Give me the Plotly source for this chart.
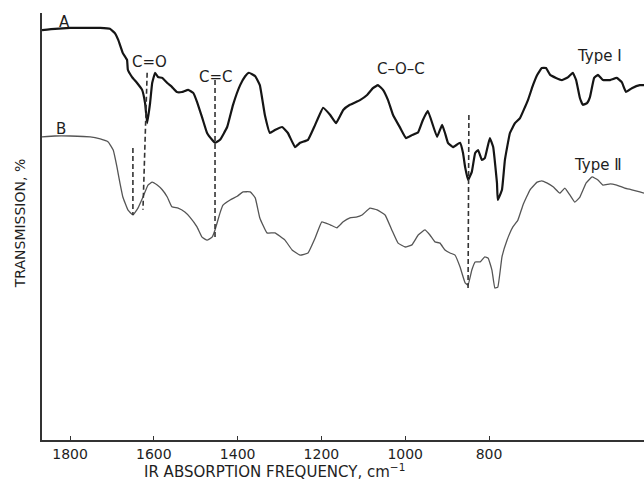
import plotly.graph_objects as go

# ---- data (wavenumber cm^-1, transmission %) ----
wn_a = [1867, 1836, 1800, 1764, 1728, 1705, 1693, 1685, 1674, 1664, 1662, 1652, 1640, 1628,
        1621, 1616, 1609, 1604, 1597, 1590, 1580, 1568, 1557, 1545, 1533, 1518, 1506, 1497,
        1485, 1473, 1461, 1454, 1442, 1425, 1411, 1394, 1382, 1373, 1358, 1347, 1335, 1323,
        1311, 1294, 1280, 1263, 1251, 1232, 1215, 1196, 1179, 1165, 1148, 1132, 1108, 1091,
        1077, 1065, 1053, 1041, 1029, 1012, 998, 984, 969, 958, 946, 924, 912, 905, 898, 886,
        869, 862, 857, 850, 841, 833, 826, 817, 810, 798, 790, 781, 779, 769, 762, 750, 738,
        726, 714, 707, 695, 685, 674, 664, 654, 640, 626, 611, 600, 592, 583, 576, 566, 559,
        549, 540, 528, 511, 495, 483, 473, 459, 440, 430]
t_a = [96.0, 96.3, 96.5, 96.5, 96.5, 96.3, 95.3, 93.7, 90.6, 89.0, 86.7, 85.0, 83.6, 82.0,
       78.9, 74.2, 78.9, 83.6, 86.0, 85.0, 84.8, 83.6, 82.7, 81.5, 81.5, 82.0, 81.3, 79.2,
       75.6, 71.9, 70.3, 69.6, 70.3, 73.3, 78.5, 83.1, 85.2, 86.0, 85.2, 83.1, 76.1, 71.9,
       72.6, 73.3, 71.9, 68.6, 69.6, 70.3, 73.8, 77.8, 76.1, 74.2, 77.3, 78.5, 79.6, 80.8,
       82.4, 83.1, 82.0, 79.6, 76.1, 73.1, 70.7, 71.4, 72.1, 74.9, 77.1, 71.0, 73.8, 71.9,
       69.6, 68.6, 69.6, 67.2, 63.9, 60.9, 62.8, 67.2, 67.9, 65.6, 66.0, 70.7, 68.6, 60.2,
       56.2, 58.6, 65.6, 71.9, 74.2, 75.4, 78.0, 79.6, 83.1, 85.5, 87.1, 87.1, 85.5, 84.8,
       84.3, 85.0, 86.0, 84.3, 80.1, 78.5, 78.9, 80.3, 84.8, 85.5, 84.3, 84.3, 84.8, 83.8,
       81.5, 82.4, 83.1, 83.1]

wn_b = [1867, 1836, 1800, 1752, 1728, 1709, 1697, 1688, 1681, 1674, 1662, 1650, 1638, 1626,
        1614, 1604, 1592, 1580, 1568, 1557, 1542, 1526, 1514, 1497, 1485, 1473, 1461, 1454,
        1442, 1435, 1418, 1401, 1387, 1370, 1358, 1347, 1330, 1311, 1287, 1270, 1251, 1232,
        1215, 1199, 1179, 1163, 1148, 1132, 1117, 1103, 1084, 1067, 1048, 1032, 1017, 1000,
        984, 969, 953, 941, 929, 917, 905, 893, 881, 869, 857, 850, 841, 833, 821, 810, 802,
        793, 786, 779, 769, 757, 743, 731, 719, 702, 685, 674, 662, 647, 631, 619, 607, 595,
        583, 568, 554, 540, 528, 511, 495, 476, 459, 440, 430]
t_b = [71.0, 71.2, 71.2, 71.0, 70.5, 69.8, 67.9, 63.9, 60.2, 56.9, 53.9, 52.7, 54.3, 56.9,
       59.7, 60.4, 59.7, 58.6, 56.9, 54.6, 54.3, 53.4, 52.2, 49.9, 47.5, 46.8, 47.5, 49.2,
       53.2, 55.0, 56.2, 57.1, 58.1, 58.1, 56.7, 52.0, 48.5, 48.5, 46.8, 44.5, 43.3, 43.8,
       47.3, 51.1, 50.4, 49.7, 51.1, 52.0, 52.2, 52.7, 54.3, 53.9, 52.7, 49.2, 46.1, 45.2,
       45.7, 48.0, 49.2, 48.0, 46.4, 46.1, 44.5, 43.8, 43.3, 40.5, 36.8, 36.3, 39.8, 41.7,
       41.7, 42.9, 42.6, 39.8, 35.6, 35.8, 42.9, 46.8, 49.9, 51.5, 55.0, 58.6, 60.4, 60.7,
       60.2, 59.3, 57.8, 59.0, 57.4, 55.7, 56.9, 60.2, 61.6, 60.9, 59.7, 60.0, 59.7, 59.0,
       58.6, 58.1, 57.8]

# dashed band-assignment markers (start/end in data units)
dash_wn_top = [1616, 1650, 1454, 848]
dash_wn_bot = [1626, 1650, 1454, 850]
dash_t_top = [86.0, 68.4, 84.3, 76.1]
dash_t_bot = [53.9, 52.7, 47.3, 35.1]

band_labels = ["C=O", "C=C", "C\u2013O\u2013C"]
band_wn = [1611, 1452, 1010]
band_t = [88.5, 85.0, 86.9]

curve_labels = ["A", "B", "Type \u2160", "Type \u2161"]
curve_label_wn = [1814, 1821, 537, 540]
curve_label_t = [97.9, 72.8, 89.9, 64.4]

tick_vals = [1800, 1600, 1400, 1200, 1000, 800]
tick_text = ["1800", "1600", "1400", "1200", "1000", "800"]

FONT = "DejaVu Sans, Liberation Sans, sans-serif"
INK = "#1e1e1e"

fig = go.Figure()
fig.add_trace(go.Scatter(x=wn_a, y=t_a, mode="lines",
                         line=dict(color="#151515", width=2.2, shape="spline", smoothing=0.3),
                         hoverinfo="skip", showlegend=False))
fig.add_trace(go.Scatter(x=wn_b, y=t_b, mode="lines",
                         line=dict(color="#555555", width=1.3, shape="spline", smoothing=0.3),
                         hoverinfo="skip", showlegend=False))
for x0, x1, y0, y1 in zip(dash_wn_top, dash_wn_bot, dash_t_top, dash_t_bot):
    fig.add_trace(go.Scatter(x=[x0, x1], y=[y0, y1], mode="lines",
                             line=dict(color="#333333", width=1.6, dash="5px,3px"),
                             hoverinfo="skip", showlegend=False))

for txt, x, y in zip(band_labels, band_wn, band_t):
    fig.add_annotation(x=x, y=y, text=txt, showarrow=False,
                       font=dict(family=FONT, size=15, color=INK))
for txt, x, y in zip(curve_labels, curve_label_wn, curve_label_t):
    fig.add_annotation(x=x, y=y, text=txt, showarrow=False,
                       font=dict(family=FONT, size=15, color=INK))

# axis titles
fig.add_annotation(xref="paper", yref="paper", x=0.387, y=-0.072,
                   text="IR ABSORPTION FREQUENCY, cm<sup>\u22121</sup>", showarrow=False,
                   yanchor="middle", font=dict(family=FONT, size=15, color=INK))
fig.add_annotation(xref="paper", yref="paper", x=-0.036, y=0.506,
                   text="TRANSMISSION, %", textangle=-90, showarrow=False,
                   xanchor="center", yanchor="middle",
                   font=dict(family=FONT, size=14, color=INK))

fig.update_layout(
    width=644, height=481,
    margin=dict(l=42, r=0, t=13, b=41),
    paper_bgcolor="white", plot_bgcolor="white",
    xaxis=dict(range=[1867, 430], tickvals=tick_vals, ticktext=tick_text,
               ticks="inside", ticklen=4, tickcolor="#333", tickwidth=1.2,
               showline=True, linecolor="#333", linewidth=1.5,
               showgrid=False, zeroline=False,
               tickfont=dict(family=FONT, size=14, color=INK)),
    yaxis=dict(range=[0, 100], showticklabels=False, ticks="",
               showline=True, linecolor="#333", linewidth=1.5,
               showgrid=False, zeroline=False),
)

fig.write_html("out.html")
